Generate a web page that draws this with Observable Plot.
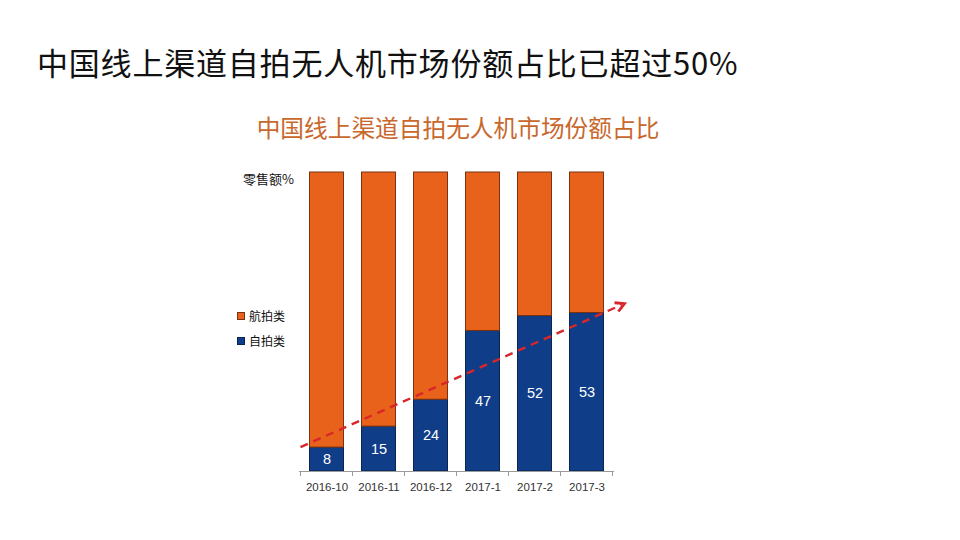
<!DOCTYPE html>
<html>
<head>
<meta charset="utf-8">
<script src="https://cdn.jsdelivr.net/npm/d3@7"></script>
<script src="https://cdn.jsdelivr.net/npm/@observablehq/plot@0.6"></script>
<style>
  html, body { margin: 0; padding: 0; background: #fff; }
  #wrap { position: relative; width: 960px; height: 540px; overflow: hidden; font-family: "Noto Sans CJK SC", "Noto Sans", sans-serif; }
  #chart { position: absolute; left: 0; top: 0; }
  .abs { position: absolute; white-space: nowrap; }
  #title { left: 37px; top: 42px; font-size: 31px; letter-spacing: 0.8px; color: #111; line-height: 40px; }
  #subtitle { left: 0; width: 916px; text-align: center; top: 111px; font-size: 23.7px; color: #C8682C; line-height: 32px; }
  #unit { left: 243px; top: 170px; font-size: 13px; color: #111; line-height: 18px; }
  .leg { left: 237px; font-size: 12px; color: #111; line-height: 16px; display: flex; align-items: center; }
  .sw { width: 8px; height: 8px; margin-right: 4px; box-sizing: border-box; }
</style>
</head>
<body>
<div id="wrap">
  <div id="chart"></div>
  <div id="title" class="abs"></div>
  <div id="subtitle" class="abs"></div>
  <div id="unit" class="abs"></div>
  <div id="legend"></div>
</div>
<script>
// ---- Data ----
const mainTitle = "中国线上渠道自拍无人机市场份额占比已超过50%";
const chartTitle = "中国线上渠道自拍无人机市场份额占比";
const unitLabel = "零售额%";
const categories = ["2016-10", "2016-11", "2016-12", "2017-1", "2017-2", "2017-3"];
const seriesNames = ["自拍类", "航拍类"];
const selfieShare = [8, 15, 24, 47, 52, 53];
const aerialShare = [92, 85, 76, 53, 48, 47];
const seriesColors = ["#0F3D88", "#E8621B"];
const seriesOutline = ["#0A2550", "#7A3210"];
// trend arrow annotation: category, value, offset in band steps from band centre
const trendFrom = {category: "2016-10", value: 8, offset: -0.5};
const trendTo = {category: "2017-3", value: 56, offset: 0.73};

// ---- Build table ----
const rows = [];
categories.forEach((c, i) => {
  rows.push({category: c, series: seriesNames[0], value: selfieShare[i]});
  rows.push({category: c, series: seriesNames[1], value: aerialShare[i]});
});
const labelRows = categories.map((c, i) => ({category: c, value: selfieShare[i]}));

document.getElementById("title").textContent = mainTitle;
document.getElementById("subtitle").textContent = chartTitle;
document.getElementById("unit").textContent = unitLabel;

// legend (航拍类 on top, 自拍类 below)
const legend = document.getElementById("legend");
[[1, 308], [0, 333]].forEach(([k, top]) => {
  const d = document.createElement("div");
  d.className = "abs leg";
  d.style.top = top + "px";
  const s = document.createElement("span");
  s.className = "sw";
  s.style.background = seriesColors[k];
  s.style.border = "1px solid " + seriesOutline[k];
  const t = document.createElement("span");
  t.textContent = seriesNames[k];
  d.appendChild(s); d.appendChild(t);
  legend.appendChild(d);
});

function bandInfo(scales) {
  const x = scales.x;
  const c0 = x(categories[0]), c1 = x(categories[1]);
  const step = c1 - c0;
  let bw = typeof x.bandwidth === "function" ? x.bandwidth() : (scales.scales && scales.scales.x && scales.scales.x.bandwidth);
  if (!(bw > 0)) bw = step * 0.67;
  return {x, step, bw};
}

const chart = Plot.plot({
  width: 960,
  height: 540,
  marginLeft: 299,
  marginRight: 346,
  marginTop: 172,
  marginBottom: 69,
  style: {fontFamily: "'Liberation Sans', Arial, sans-serif", fontSize: "11.5px", background: "transparent", color: "#333"},
  x: {type: "band", domain: categories, paddingInner: 0.33, paddingOuter: 0.165, label: null, tickSize: 0, tickPadding: 11},
  y: {domain: [0, 100], axis: null},
  color: {domain: seriesNames, range: seriesColors},
  marks: [
    Plot.barY(rows, Plot.stackY({x: "category", y: "value", fill: "series", stroke: d => d.series === seriesNames[0] ? seriesOutline[0] : seriesOutline[1], strokeWidth: 1, insetLeft: 0.5, insetRight: 0.5})),
    Plot.ruleY([0], {stroke: "#9a9a9a", strokeWidth: 1}),
    // boundary ticks
    (index, scales, values, dims) => {
      const {x, step, bw} = bandInfo(scales);
      const y0 = scales.y(0);
      const g = d3.create("svg:g").attr("stroke", "#9a9a9a").attr("stroke-width", 1);
      const edges = categories.map(c => x(c) + bw / 2 - step / 2);
      edges.push(x(categories[categories.length - 1]) + bw / 2 + step / 2);
      edges.forEach(e => g.append("line").attr("x1", e).attr("x2", e).attr("y1", y0).attr("y2", y0 + 5));
      return g.node();
    },
    Plot.text(labelRows, {x: "category", y: d => d.value / 2, text: d => String(d.value), fill: "white", fontSize: 14.5}),
    // dashed trend arrow
    (index, scales) => {
      const {x, step, bw} = bandInfo(scales);
      const px = p => x(p.category) + bw / 2 + p.offset * step;
      const x1 = px(trendFrom), y1 = scales.y(trendFrom.value);
      const x2 = px(trendTo), y2 = scales.y(trendTo.value);
      const ang = Math.atan2(y2 - y1, x2 - x1);
      const g = d3.create("svg:g").attr("stroke", "#D8262A").attr("fill", "none").attr("stroke-width", 2.4);
      g.append("line").attr("x1", x1).attr("y1", y1).attr("x2", x2 - 3 * Math.cos(ang)).attr("y2", y2 - 3 * Math.sin(ang)).attr("stroke-dasharray", "8,6");
      const L = 10, a = 0.5;
      const p1 = [x2 - L * Math.cos(ang - a), y2 - L * Math.sin(ang - a)];
      const p2 = [x2 - L * Math.cos(ang + a), y2 - L * Math.sin(ang + a)];
      g.append("path").attr("d", `M${p1[0]},${p1[1]}L${x2},${y2}L${p2[0]},${p2[1]}`).attr("stroke-linejoin", "miter").attr("stroke-width", 2.8);
      return g.node();
    }
  ]
});
document.getElementById("chart").appendChild(chart);
</script>
</body>
</html>
